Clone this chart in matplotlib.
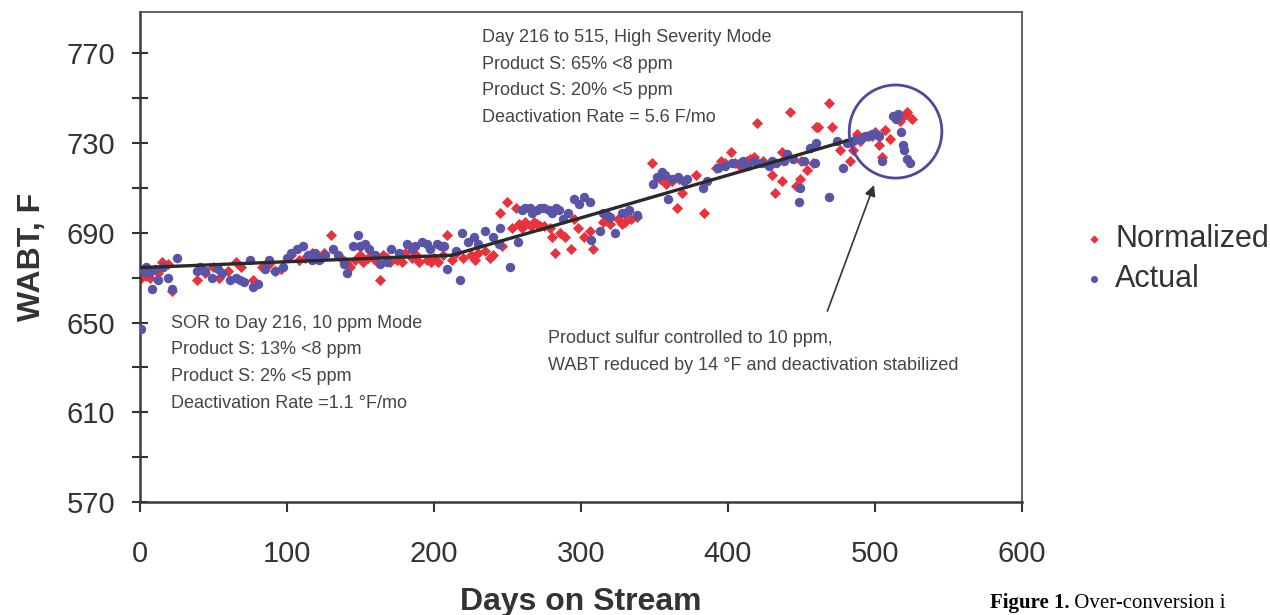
import matplotlib.pyplot as plt
from matplotlib.patches import Ellipse

plt.rcParams['font.family'] = ['Liberation Sans', 'DejaVu Sans']

# Normalized WABT (red diamonds)
norm_days = [1, 4, 7, 12, 15, 19, 22, 39, 44, 50, 54, 60, 65, 69, 77, 83, 88, 92, 96,
             103, 108, 112, 117, 120, 124, 125, 130, 137, 140, 143, 146, 150, 155, 160,
             163, 165, 170, 175, 180, 185, 190, 195, 200, 203, 206, 209, 212, 215, 220,
             225, 230, 235, 240, 245, 246, 250, 253, 256, 258, 262, 266, 270, 275, 279,
             280, 282, 286, 289, 293, 295, 298, 302, 306, 308, 315, 320, 325, 330, 334,
             338, 348, 354, 358, 362, 365, 367, 369, 378, 384, 392, 398, 402, 408, 413,
             418, 420, 424, 430, 432, 437, 437, 442, 446, 449, 450, 454, 458, 460, 461,
             469, 471, 476, 483, 485, 490, 495, 500, 503, 505, 510, 519, 522, 525,
             # extra points in the dense bands
             152, 158, 168, 178, 188, 198, 228, 238, 260, 268, 272, 318, 328, 395, 405,
             415, 488, 498, 507, 517, 521]
norm_wabt = [670, 671, 670, 672, 677, 676, 664, 669, 672, 675, 670, 673, 677, 675, 669,
             675, 676, 673, 674, 680, 678, 679, 681, 680, 679, 681, 689, 679, 677, 675,
             678, 680, 679, 678, 669, 680, 677, 678, 681, 679, 677, 678, 679, 677, 680,
             689, 678, 681, 679, 680, 681, 682, 680, 699, 684, 704, 692, 701, 694, 695,
             693, 694, 693, 692, 688, 681, 690, 688, 683, 696, 692, 688, 691, 683, 695,
             694, 696, 695, 696, 697, 721, 714, 712, 713, 701, 714, 708, 716, 699, 719,
             721, 726, 720, 722, 724, 739, 722, 716, 708, 713, 726, 744, 711, 714, 722,
             718, 721, 737, 737, 748, 737, 727, 722, 727, 731, 733, 735, 729, 724, 732,
             742, 744, 741,
             677, 680, 679, 677, 680, 677, 678, 679, 692, 695, 693, 696, 694, 722, 721,
             723, 734, 733, 736, 740, 743]

# Actual WABT (blue circles)
act_days = [1, 2, 4, 6, 8, 10, 12, 16, 19, 22, 25, 39, 41, 44, 49, 53, 56, 61, 65, 68,
            71, 75, 77, 80, 85, 88, 92, 97, 103, 107, 111, 114, 117, 122, 126, 131, 135,
            139, 141, 148, 150, 153, 156, 160, 163, 168, 171, 176, 182, 187, 192, 197,
            202, 207, 209, 215, 218, 219, 223, 227, 230, 235, 240, 244, 245, 252, 257,
            260, 265, 270, 275, 280, 285, 288, 291, 295, 299, 302, 306, 307, 313, 315,
            320, 323, 328, 333, 338, 349, 352, 355, 359, 362, 366, 370, 372, 383, 386,
            393, 398, 403, 408, 413, 418, 423, 428, 433, 438, 440, 444, 448, 449, 452,
            456, 459, 460, 469, 474, 478, 481, 485, 490, 495, 500, 503, 505, 512, 516,
            518, 519, 520, 522, 524,
            # extra points in the dense bands
            100, 119, 145, 185, 195, 205, 262, 267, 272, 278, 283, 318, 330, 357, 410,
            420, 430, 487, 493, 498, 514]
act_wabt = [647, 673, 675, 672, 665, 674, 669, 675, 670, 665, 679, 673, 675, 673, 670,
            674, 672, 669, 670, 669, 668, 678, 666, 667, 674, 678, 673, 675, 681, 683,
            684, 680, 678, 678, 680, 683, 680, 676, 672, 689, 684, 685, 683, 680, 676,
            677, 683, 681, 685, 684, 686, 683, 685, 684, 674, 682, 669, 690, 686, 688,
            685, 691, 688, 685, 692, 675, 686, 700, 701, 700, 701, 699, 700, 696, 699,
            705, 703, 706, 704, 687, 691, 699, 697, 690, 699, 700, 698, 712, 715, 717,
            705, 714, 715, 713, 714, 710, 713, 719, 720, 721, 721, 720, 722, 721, 720,
            721, 722, 725, 723, 704, 710, 722, 728, 721, 730, 706, 731, 719, 730, 731,
            732, 733, 734, 733, 722, 742, 743, 735, 729, 727, 723, 721,
            679, 681, 684, 683, 685, 684, 701, 699, 701, 700, 701, 698, 699, 716, 722,
            721, 722, 732, 733, 734, 741]

# piecewise trend line
trend_days = [0, 170, 212, 483]
trend_wabt = [674.5, 679, 680, 731.5]

fig = plt.figure(figsize=(12.7, 6.15), dpi=100)
ax = fig.add_axes([0.1102, 0.1837, 0.6945, 0.7968])

ax.scatter(norm_days, norm_wabt, marker='D', s=32, color='#e8323c', linewidths=0,
           label='Normalized', zorder=2)
ax.scatter(act_days, act_wabt, marker='o', s=46, color='#5a54a8', linewidths=0,
           label='Actual', zorder=3)
ax.plot(trend_days, trend_wabt, color='#2a2a2a', lw=2.4, zorder=4)

ax.set_xlim(0, 600)
ax.set_ylim(570, 788.5)
ax.set_xticks(range(0, 601, 100))
ax.set_yticks(range(570, 771, 40))
ax.set_yticks(range(590, 771, 40), minor=True)
ax.tick_params(axis='y', which='both', direction='inout', length=12, width=1.5,
               color='#333333', labelsize=21, labelcolor='#333333', pad=12)
ax.tick_params(axis='x', direction='out', length=7, width=1.5, color='#333333',
               labelsize=21, labelcolor='#333333', pad=20)
for side in ['left', 'bottom']:
    ax.spines[side].set_linewidth(1.8)
    ax.spines[side].set_color('#3a3a3a')
for side in ['top', 'right']:
    ax.spines[side].set_linewidth(1.3)
    ax.spines[side].set_color('#555555')

ax.set_xlabel('Days on Stream', fontsize=23, fontweight='bold', color='#333333',
              labelpad=14)
ax.set_ylabel('WABT, F', fontsize=23, fontweight='bold', color='#333333', labelpad=14)

# annotations
txt = dict(fontsize=13, color='#444444', va='center', ha='left')
top_lines = ['Day 216 to 515, High Severity Mode', 'Product S: 65% <8 ppm',
             'Product S: 20% <5 ppm', 'Deactivation Rate = 5.6 F/mo']
for i, s in enumerate(top_lines):
    ax.text(233, 777.1 - i * 11.9, s, **txt)
low_lines = ['SOR to Day 216, 10 ppm Mode', 'Product S: 13% <8 ppm',
             'Product S: 2% <5 ppm', 'Deactivation Rate =1.1 °F/mo']
for i, s in enumerate(low_lines):
    ax.text(21, 649.7 - i * 11.9, s, **txt)
ax.text(277.6, 643.0, 'Product sulfur controlled to 10 ppm,', **txt)
ax.text(277.6, 631.0, 'WABT reduced by 14 °F and deactivation stabilized', **txt)

ax.add_patch(Ellipse((514, 735.2), width=63, height=41.5, fill=False,
                     edgecolor='#4c4a9c', lw=2, zorder=5))
ax.annotate('', xy=(500, 712.5), xytext=(467, 654),
            arrowprops=dict(arrowstyle='-|>', color='#333333', lw=1.2,
                            mutation_scale=16))

ax.legend(loc='center left', bbox_to_anchor=(1.064, 0.496), frameon=False,
          fontsize=22, handlelength=1.0, handletextpad=0.2, labelspacing=0.35,
          borderaxespad=0, borderpad=0, markerscale=0.75, labelcolor='#333333')

t1 = fig.text(0.7795, 0.011, 'Figure 1.', family='Liberation Serif',
              fontweight='bold', fontsize=15, va='baseline')
ax.annotate(' Over-conversion i', xy=(1, 0), xycoords=t1, va='bottom',
            family='Liberation Serif', fontsize=15, annotation_clip=False)

fig.savefig('out.png', dpi=100)
